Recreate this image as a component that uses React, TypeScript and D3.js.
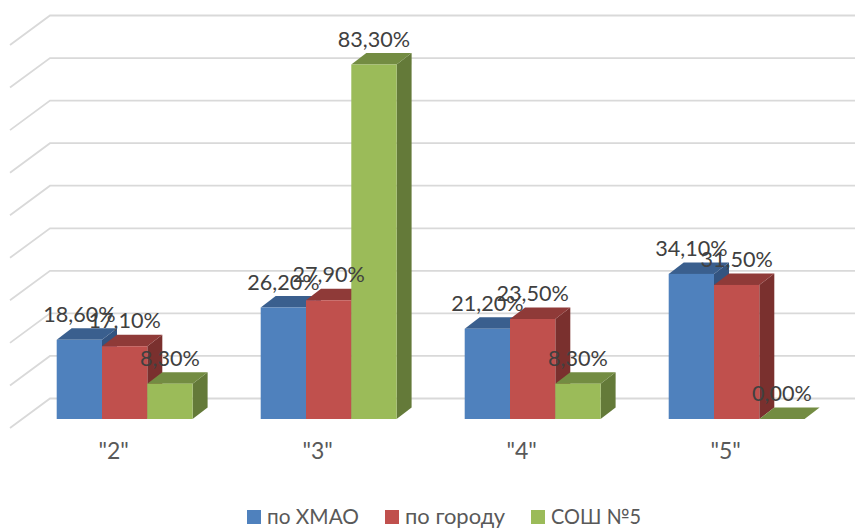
import React from "react";
import * as d3 from "d3";

const categories = ['"2"', '"3"', '"4"', '"5"'];
const seriesNames = ["по ХМАО", "по городу", "СОШ №5"];
const xmao = [18.6, 26.2, 21.2, 34.1];
const city = [17.1, 27.9, 23.5, 31.5];
const school = [8.3, 83.3, 8.3, 0];
const gridTicks = [0, 10, 20, 30, 40, 50, 60, 70, 80, 90];

const front = ["#4f81bd", "#c0504d", "#9bbb59"];
const topFace = ["#3a5f8e", "#8f3a38", "#738c42"];
const sideFace = ["#335480", "#7a302e", "#647a39"];
const FONT = "Lato, 'Open Sans', sans-serif";

const W = 855, H = 528;
const BASE = 419, DX = 15, DY = 11.5;
const yBack = d3.scaleLinear().domain([0, 90]).range([398.5, 15.5]);
const height = (v: number) => yBack(0) - yBack(v);
const xGroup = d3.scaleBand<string>().domain(categories).range([56.7, 872.7]).paddingInner(0).paddingOuter(0).align(0);
const barW = 45.3;
const series = [xmao, city, school];
const legendX = [247, 385, 531];
const legendWidth = [92, 100, 90];

export default function App() {
  return (
    <svg width={W} height={H} viewBox={`0 0 ${W} ${H}`} style={{ position: "absolute", left: 0, top: 0, background: "#fff" }}>
      {gridTicks.map((t) => {
        const y = yBack(t);
        return (
          <path key={t} d={`M10,${y + 29.5}L50,${y}L855,${y}`} fill="none" stroke="#d9d9d9" strokeWidth={1.8} />
        );
      })}
      {categories.map((c, ci) => {
        const gx = xGroup(c)!;
        return (
          <g key={c}>
            {series.map((s, si) => {
              const x0 = gx + si * barW, x1 = x0 + barW;
              const y = BASE - height(s[ci]);
              return (
                <g key={si}>
                  <path d={`M${x1},${y}L${x1 + DX},${y - DY}L${x1 + DX},${BASE - DY}L${x1},${BASE}Z`} fill={sideFace[si]} />
                  <path d={`M${x0},${y}L${x0 + DX},${y - DY}L${x1 + DX},${y - DY}L${x1},${y}Z`} fill={topFace[si]} />
                  <rect x={x0} y={y} width={barW} height={height(s[ci])} fill={front[si]} />
                </g>
              );
            })}
            <text x={gx + 57} y={459} textAnchor="middle" fontFamily={FONT} fontSize={23} fill="#595959">{c}</text>
          </g>
        );
      })}
      {categories.map((c, ci) =>
        series.map((s, si) => (
          <text key={c + si} x={xGroup(c)! + si * barW + barW / 2} y={BASE - height(s[ci]) - 18}
            textAnchor="middle" fontFamily={FONT} fontSize={21.6} fill="#404040">
            {s[ci].toFixed(2).replace(".", ",")}%
          </text>
        ))
      )}
      {seriesNames.map((n, i) => (
        <g key={n}>
          <rect x={legendX[i]} y={510} width={14} height={14} fill={front[i]} />
          <text x={legendX[i] + 20} y={524} fontFamily={FONT} fontSize={21} fill="#595959" textLength={legendWidth[i]} lengthAdjust="spacingAndGlyphs">{n}</text>
        </g>
      ))}
    </svg>
  );
}
